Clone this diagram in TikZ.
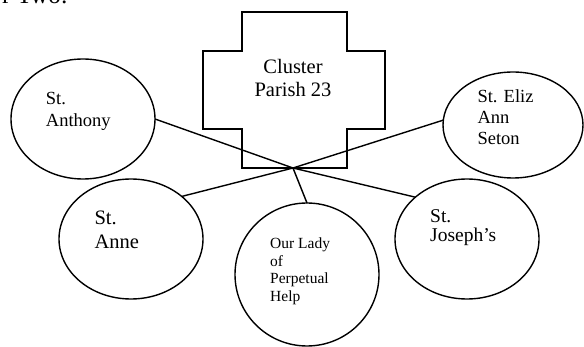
\documentclass[tikz,border=0pt]{standalone}
\usepackage{fontspec}
\setmainfont{Liberation Serif}
\usetikzlibrary{shapes.geometric}
\begin{document}
\begin{tikzpicture}[x=1pt,y=-1pt,
  parish/.style={draw, ellipse, line width=1.4pt, inner sep=0pt, outer sep=0pt},
  lbl/.style={anchor=base west, align=left, inner sep=0pt},
  link/.style={line width=1.4pt}]
\useasboundingbox (0,0) rectangle (584,347);
\clip (0,0) rectangle (584,347);
\node[anchor=base west, inner sep=0pt, font=\fontsize{25}{28}\selectfont] (heading) at (2,3.5) {r Two:};
% cross
\draw[line width=1.4pt] (242,12) -- (347,12) -- (347,51) -- (385,51) -- (385,129) -- (347,129) -- (347,168) -- (242,168) -- (242,129) -- (203,129) -- (203,51) -- (242,51) -- cycle;
\node[anchor=base, align=center, inner sep=0pt, font=\fontsize{20.5}{23.3}\selectfont] (cluster) at (293,96.7) {Cluster\\Parish 23};
% parishes
\node[parish, minimum width=144pt, minimum height=120pt] (anthony) at (83,119) {};
\node[parish, minimum width=144pt, minimum height=120pt] (anne) at (131,239) {};
\node[parish, minimum width=144pt, minimum height=143pt] (olph) at (307,274.5) {};
\node[parish, minimum width=140pt, minimum height=106pt] (eliz) at (513,125) {};
\node[parish, minimum width=144pt, minimum height=120pt] (joseph) at (467,239) {};
% labels (base = baseline of last line)
\node[lbl, font=\fontsize{18.5}{21.7}\selectfont] (anthonytxt) at (45.7,126.7) {St.\\Anthony};
\node[lbl, font=\fontsize{20.5}{23.3}\selectfont] (annetxt) at (94.3,248.3) {St.\\Anne};
\node[lbl, font=\fontsize{15.5}{17.8}\selectfont] (olphtxt) at (270,301.7) {Our Lady\\of\\Perpetual\\Help};
\node[lbl, font=\fontsize{18.5}{21}\selectfont] (eliztxt) at (477.3,144.3) {St. Eliz\\Ann\\Seton};
\node[lbl, font=\fontsize{19.5}{19}\selectfont] (josephtxt) at (430,241.7) {St.\\Joseph’s};
% connectors
\coordinate (hub) at (293,168);
\draw[link] (anthony.east) -- (hub);
\draw[link] (anne.40) -- (hub);
\draw[link] (eliz.176) -- (hub);
\draw[link] (joseph.141) -- (hub);
\draw[link] (olph.north) -- (hub);
\end{tikzpicture}
\end{document}
